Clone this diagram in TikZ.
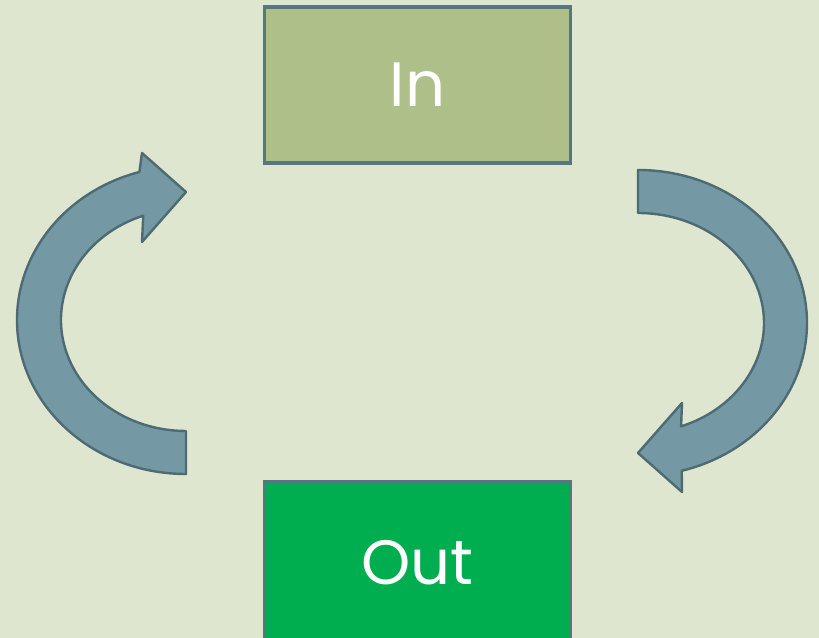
\documentclass[tikz,border=0pt]{standalone}
\usepackage{fontspec}
\setmainfont{Poppins}
\usetikzlibrary{calc}

\definecolor{paper}{HTML}{DFE6D0}
\definecolor{inbox}{HTML}{AFBF8A}
\definecolor{outbox}{HTML}{00AD4F}
\definecolor{slate}{HTML}{587680}
\definecolor{loopfill}{HTML}{7499A5}
\definecolor{loopline}{HTML}{4E6A73}

\tikzset{
  stage/.style={draw=slate, line width=2.4pt, minimum width=230pt,
    inner sep=0pt, text=white, font=\fontsize{47}{56}\selectfont},
  loop arrow/.style={fill=loopfill, draw=loopline, line width=1.8pt,
    line join=round}
}

\begin{document}
\begin{tikzpicture}[x=0.75pt, y=0.75pt]

% Canvas
\clip (0,0) rectangle (819,638);
\fill[paper] (0,0) rectangle (819,638);

% Define arc centres
\coordinate (L) at (186,318);
\coordinate (R) at (638,315);

% Stages
\node[stage, fill=inbox, minimum height=117pt] (in) at (417.5,553) {In};
\node[stage, fill=outbox, minimum height=122pt] (out) at (417.5,75.5) {Out};

% Left arrow, going up
\draw[loop arrow] ([shift={(L)}]270:169 and 154)
  arc[start angle=270, end angle=106, x radius=169, y radius=154]
  -- (142,485) -- (186,446) -- (142,396)
  -- ([shift={(L)}]110:125 and 111)
  arc[start angle=110, end angle=270, x radius=125, y radius=111]
  -- cycle;

% Right arrow, going down
\draw[loop arrow] ([shift={(R)}]90:169 and 153)
  arc[start angle=90, end angle=-75, x radius=169, y radius=153]
  -- (682,146) -- (638,185) -- (682,235)
  -- ([shift={(R)}]-70:126 and 110)
  arc[start angle=-70, end angle=90, x radius=126, y radius=110]
  -- cycle;

\end{tikzpicture}
\end{document}
